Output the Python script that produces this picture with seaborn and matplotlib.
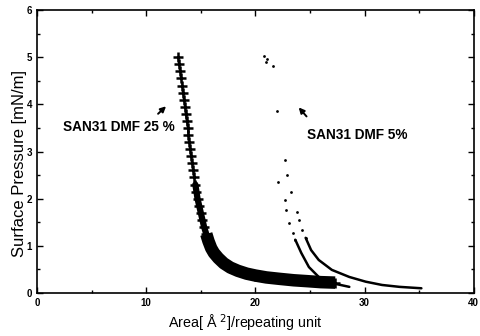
import matplotlib
matplotlib.use("Agg")
import matplotlib.pyplot as plt
import seaborn as sns
import pandas as pd
from matplotlib.ticker import MultipleLocator

# ---- data ----
dmf25_area = [12.9, 13.0, 13.1, 13.2, 13.3, 13.35, 13.45, 13.55, 13.6, 13.7, 13.8, 13.85,
              13.95, 14.0, 14.1, 14.2, 14.3, 14.4, 14.5, 14.6, 14.7, 14.85, 15.0,
              15.15, 15.3, 15.5, 15.7, 15.95, 16.2, 16.6, 17.1, 17.7, 18.4, 19.2, 20.0,
              21.0, 22.2, 23.5, 24.8, 26.0, 27.3]
dmf25_pressure = [5.0, 4.85, 4.7, 4.55, 4.4, 4.25, 4.1, 3.95, 3.8, 3.65, 3.5, 3.35,
                  3.2, 3.05, 2.9, 2.75, 2.6, 2.45, 2.3, 2.15, 2.0, 1.85, 1.7,
                  1.55, 1.4, 1.25, 1.1, 0.95, 0.85, 0.74, 0.63, 0.54, 0.47, 0.41, 0.37,
                  0.33, 0.30, 0.27, 0.25, 0.23, 0.22]

dmf5_inner_area = [22.75, 22.1, 22.75, 22.8, 23.1, 23.4, 23.65, 24.2, 24.9, 25.8, 27.0, 28.6]
dmf5_inner_pressure = [2.83, 2.36, 1.98, 1.77, 1.49, 1.28, 1.13, 0.85, 0.55, 0.34, 0.21, 0.13]

dmf5_outer_area = [22.9, 23.3, 23.8, 24.0, 24.3, 24.6, 25.1, 25.8, 27.0, 28.6, 30.1, 31.6, 33.2, 35.2]
dmf5_outer_pressure = [2.51, 2.15, 1.72, 1.55, 1.34, 1.17, 0.91, 0.70, 0.49, 0.34, 0.24, 0.17, 0.13, 0.10]

dmf5_sparse_area = [20.8, 21.1, 21.0, 21.6, 22.0]
dmf5_sparse_pressure = [5.02, 4.96, 4.89, 4.81, 3.87]

x_ticks = [0, 10, 20, 30, 40]
y_ticks = [0, 1, 2, 3, 4, 5, 6]

sns.set_theme(style="ticks", rc={"text.color": "black", "axes.labelcolor": "black",
                                 "xtick.color": "black", "ytick.color": "black",
                                 "axes.edgecolor": "black"})
plt.rcParams['font.family'] = ['Liberation Sans', 'DejaVu Sans']

fig = plt.figure(figsize=(4.81, 3.36), dpi=100)
ax = fig.add_axes([0.077, 0.128, 0.908, 0.842])

d25 = pd.DataFrame({"area": dmf25_area, "p": dmf25_pressure})
mid25 = d25[(d25["p"] <= 2.35) & (d25["p"] >= 1.05)]
low25 = d25[d25["p"] <= 1.25]
sns.lineplot(data=mid25, x="area", y="p", sort=False, color="black", lw=4.5,
             solid_capstyle="round", ax=ax)
sns.lineplot(data=low25, x="area", y="p", sort=False, color="black", lw=9,
             solid_capstyle="butt", ax=ax)
sns.lineplot(data=d25, x="area", y="p", sort=False, color="black", lw=1.0,
             marker="+", markersize=7, markeredgewidth=1.8, markeredgecolor="black", ax=ax)

di = pd.DataFrame({"area": dmf5_inner_area, "p": dmf5_inner_pressure})
do = pd.DataFrame({"area": dmf5_outer_area, "p": dmf5_outer_pressure})
sns.scatterplot(data=di[di["p"] > 1.1], x="area", y="p", color="black", s=4, linewidth=0, ax=ax)
sns.scatterplot(data=do[do["p"] > 1.1], x="area", y="p", color="black", s=4, linewidth=0, ax=ax)
sns.lineplot(data=di[di["p"] < 1.2], x="area", y="p", sort=False, color="black", lw=1.8, ax=ax)
sns.lineplot(data=do[do["p"] < 1.2], x="area", y="p", sort=False, color="black", lw=1.8, ax=ax)
sns.scatterplot(x=dmf5_sparse_area, y=dmf5_sparse_pressure, color="black", s=4, linewidth=0, ax=ax)

ax.set_xlim(0, 40)
ax.set_ylim(0, 6)
ax.set_xticks(x_ticks)
ax.set_yticks(y_ticks)
ax.xaxis.set_minor_locator(MultipleLocator(5))
ax.yaxis.set_minor_locator(MultipleLocator(0.5))
ax.tick_params(which="both", direction="in", top=True, right=True, labelsize=7, width=1)
for lbl in ax.get_xticklabels() + ax.get_yticklabels():
    lbl.set_fontweight("bold")
ax.tick_params(which="major", length=4)
ax.tick_params(which="minor", length=2)
for s in ax.spines.values():
    s.set_linewidth(1.2)
    s.set_color("black")

ax.set_xlabel("Area[ Å $^{2}$]/repeating unit", fontsize=10.3)
ax.set_ylabel("Surface Pressure [mN/m]", fontsize=12.0)
ax.xaxis.set_label_coords(0.477, -0.07)
ax.yaxis.set_label_coords(-0.024, 0.456)

ax.text(2.4, 3.51, "SAN31 DMF 25 %", fontsize=9.8, fontweight="bold", va="center", ha="left")
ax.annotate("", xy=(12.0, 4.0), xytext=(10.9, 3.76),
            arrowprops=dict(arrowstyle="-|>", color="black", lw=1.4, mutation_scale=8))
ax.text(24.7, 3.36, "SAN31 DMF 5%", fontsize=9.8, fontweight="bold", va="center", ha="left")
ax.annotate("", xy=(23.8, 3.98), xytext=(24.85, 3.70),
            arrowprops=dict(arrowstyle="-|>", color="black", lw=1.4, mutation_scale=8))

fig.savefig("out.png", dpi=100)
